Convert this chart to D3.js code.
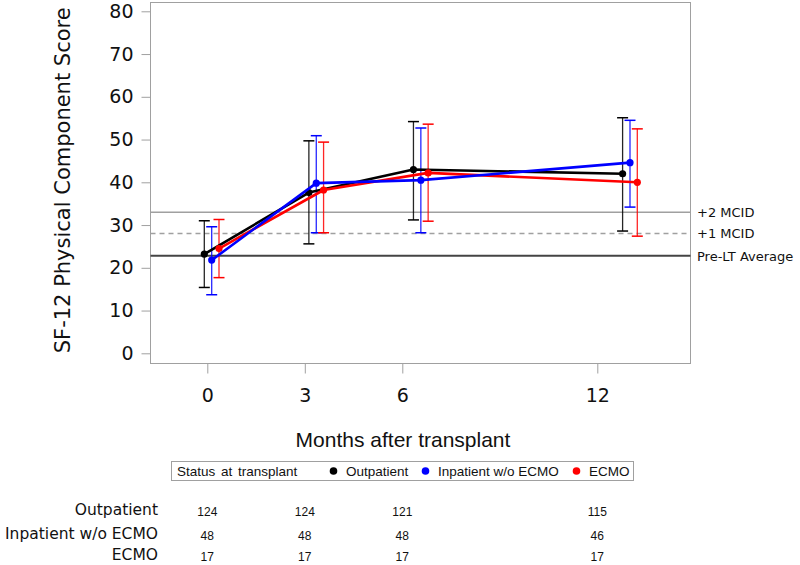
<!DOCTYPE html>
<html><head><meta charset="utf-8">
<script src="https://cdn.jsdelivr.net/npm/d3@7"></script>
<style>body{margin:0;background:#fff}svg{display:block}</style>
</head><body><svg id="c" width="800" height="565"></svg>
<script>
const months = [0, 3, 6, 12];
const seriesNames = ["Outpatient", "Inpatient w/o ECMO", "ECMO"];
const seriesColors = ["#000000", "#0000ff", "#ff0000"];
const outpatientMean = [23.2, 37.6, 43.0, 42.0];
const outpatientLo   = [15.4, 25.6, 31.2, 28.6];
const outpatientHi   = [31.0, 49.7, 54.2, 55.1];
const inpatientMean  = [21.8, 39.8, 40.5, 44.6];
const inpatientLo    = [13.7, 28.2, 28.2, 34.2];
const inpatientHi    = [29.6, 50.9, 52.7, 54.5];
const ecmoMean       = [24.5, 38.2, 42.2, 40.0];
const ecmoLo         = [17.7, 28.2, 30.9, 27.4];
const ecmoHi         = [31.3, 49.4, 53.6, 52.5];
const yTicks = [0, 10, 20, 30, 40, 50, 60, 70, 80];
const refValues = [33, 28, 22.8];
const refLabels = ["+2 MCID", "+1 MCID", "Pre-LT Average"];
const atRiskOutpatient = [124, 124, 121, 115];
const atRiskInpatient  = [48, 48, 48, 46];
const atRiskEcmo       = [17, 17, 17, 17];

const series = [
  {name: seriesNames[0], color: seriesColors[0], mean: outpatientMean, lo: outpatientLo, hi: outpatientHi, n: atRiskOutpatient},
  {name: seriesNames[1], color: seriesColors[1], mean: inpatientMean, lo: inpatientLo, hi: inpatientHi, n: atRiskInpatient},
  {name: seriesNames[2], color: seriesColors[2], mean: ecmoMean, lo: ecmoLo, hi: ecmoHi, n: atRiskEcmo}
];

const svg = d3.select("#c");
const L = 150.5, R = 690.5, T = 2.5, B = 363.5;
const y = d3.scaleLinear().domain([0, 80]).range([353.3, 11.3]);
const xAxisScale = d3.scaleLinear().domain([0, 12]).range([207.3, 597.3]);
const xData = d3.scaleLinear().domain([0, 12]).range([211.7, 630]);
const offsets = [-7.4, 0, 7.3];
const sans = "'DejaVu Sans', Verdana, sans-serif";
const arial = "'Liberation Sans', Arial, sans-serif";

// frame
svg.append("rect").attr("x", L).attr("y", T).attr("width", R - L).attr("height", B - T)
  .attr("fill", "none").attr("stroke", "#a0a0a0").attr("stroke-width", 1);

// reference lines
const refStyles = [
  {stroke: "#a0a0a0", w: 1.5, dash: null},
  {stroke: "#a0a0a0", w: 1.5, dash: "5,4"},
  {stroke: "#444444", w: 2, dash: null}
];
refValues.forEach((v, i) => {
  svg.append("line").attr("x1", L).attr("x2", R).attr("y1", y(v)).attr("y2", y(v))
    .attr("stroke", refStyles[i].stroke).attr("stroke-width", refStyles[i].w)
    .attr("stroke-dasharray", refStyles[i].dash);
  svg.append("text").attr("x", 697).attr("y", y(v) + [0, 0, 1][i]).attr("dy", "0.35em")
    .attr("font-family", sans).attr("font-size", 13).attr("fill", "#111").text(refLabels[i]);
});

// y axis
const yAxis = svg.append("g").attr("transform", `translate(${L},0)`)
  .call(d3.axisLeft(y).tickValues(yTicks).tickSize(9).tickPadding(8));
yAxis.select(".domain").remove();
yAxis.selectAll(".tick line").attr("stroke", "#a0a0a0");
yAxis.selectAll(".tick text").attr("font-family", sans).attr("font-size", 19).attr("fill", "#111");

svg.append("text").attr("transform", `translate(70,${(y(0) + y(80)) / 2 - 2}) rotate(-90)`)
  .attr("text-anchor", "middle").attr("font-family", sans).attr("font-size", 21).attr("fill", "#111")
  .text("SF-12 Physical Component Score");

// x axis
const xAxis = svg.append("g").attr("transform", `translate(0,${B})`)
  .call(d3.axisBottom(xAxisScale).tickValues(months).tickSize(10).tickPadding(15));
xAxis.select(".domain").remove();
xAxis.selectAll(".tick line").attr("stroke", "#a0a0a0");
xAxis.selectAll(".tick text").attr("font-family", sans).attr("font-size", 19).attr("fill", "#111");

svg.append("text").attr("x", 403).attr("y", 440).attr("dy", "0.35em").attr("text-anchor", "middle")
  .attr("font-family", arial).attr("font-size", 21).attr("fill", "#111").text("Months after transplant");

// error bars
series.forEach((s, si) => {
  const g = svg.append("g");
  months.forEach((m, i) => {
    const cx = xData(m) + offsets[si];
    g.append("line").attr("x1", cx).attr("x2", cx).attr("y1", y(s.lo[i])).attr("y2", y(s.hi[i]))
      .attr("stroke", s.color).attr("stroke-width", 1.3).attr("opacity", 0.85);
    [s.lo[i], s.hi[i]].forEach(v => {
      g.append("line").attr("x1", cx - 5.5).attr("x2", cx + 5.5).attr("y1", y(v)).attr("y2", y(v))
        .attr("stroke", s.color).attr("stroke-width", 1.5);
    });
  });
});

// lines and points (draw order: outpatient, ECMO, inpatient)
[0, 2, 1].forEach(si => {
  const s = series[si];
  const line = d3.line().x((m) => xData(m) + offsets[si]).y((m, i) => y(s.mean[i]));
  svg.append("path").datum(months).attr("d", line).attr("fill", "none")
    .attr("stroke", s.color).attr("stroke-width", 2.6).attr("stroke-linejoin", "round");
  svg.append("g").selectAll("circle").data(months).join("circle")
    .attr("cx", m => xData(m) + offsets[si]).attr("cy", (m, i) => y(s.mean[i]))
    .attr("r", 3.6).attr("fill", s.color);
});

// legend
svg.append("rect").attr("x", 171.5).attr("y", 461.5).attr("width", 462).attr("height", 19)
  .attr("fill", "none").attr("stroke", "#a0a0a0");
const legY = 471;
svg.append("text").attr("x", 177).attr("y", legY).attr("dy", "0.35em").attr("font-family", arial)
  .attr("font-size", 13.5).attr("word-spacing", 2).attr("fill", "#111").text("Status at transplant");
const legDots = [333.5, 425.5, 576.5];
series.forEach((s, si) => {
  svg.append("circle").attr("cx", legDots[si]).attr("cy", legY).attr("r", 3.8).attr("fill", s.color);
  svg.append("text").attr("x", legDots[si] + 12.5).attr("y", legY).attr("dy", "0.35em").attr("font-family", arial)
    .attr("font-size", 13.5).attr("fill", "#111").text(s.name);
});

// at-risk table
const rowY = [510, 534, 555];
series.forEach((s, si) => {
  svg.append("text").attr("x", 158).attr("y", rowY[si]).attr("dy", "0.35em").attr("text-anchor", "end")
    .attr("font-family", sans).attr("font-size", 15.5).attr("fill", "#111").text(s.name);
  svg.append("g").selectAll("text").data(months).join("text")
    .attr("x", m => xAxisScale(m)).attr("y", rowY[si] + 1.5).attr("dy", "0.35em").attr("text-anchor", "middle")
    .attr("font-family", arial).attr("font-size", 12).attr("fill", "#111")
    .text((m, i) => s.n[i]);
});
</script></body></html>
